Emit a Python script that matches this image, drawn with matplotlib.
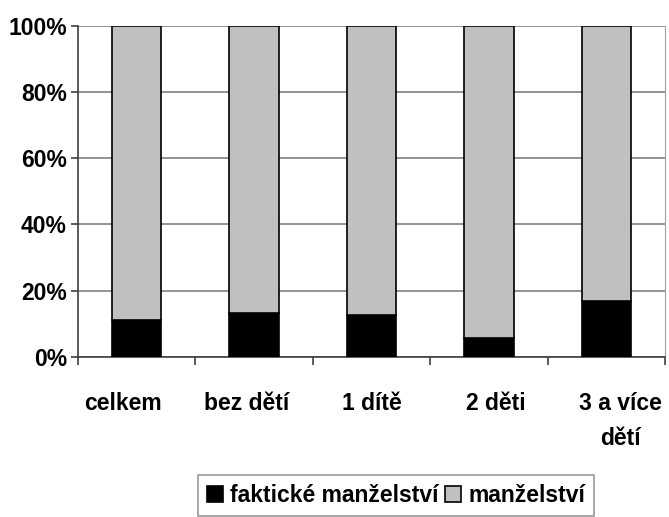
import matplotlib.pyplot as plt
import numpy as np

plt.rcParams['font.family'] = ['Liberation Sans', 'DejaVu Sans']
plt.rcParams['font.weight'] = 'bold'

kategorie = ['celkem', 'bez dětí', '1 dítě', '2 děti', '3 a více\ndětí']
faktticke = [11.3, 13.4, 12.8, 5.8, 16.8]
manzelstvi = [100 - v for v in faktticke]
y_ticks = [0, 20, 40, 60, 80, 100]

fig = plt.figure(figsize=(6.69, 5.17), dpi=100)
ax = fig.add_axes([0.1166, 0.3095, 0.8774, 0.6408])

x = np.arange(len(kategorie))
ax.bar(x, faktticke, width=0.42, color='black', edgecolor='black', linewidth=1.2,
       label='faktické manželství', zorder=3)
ax.bar(x, manzelstvi, width=0.42, bottom=faktticke, color='#c0c0c0', edgecolor='black',
       linewidth=1.2, label='manželství', zorder=3)

ax.set_xlim(-0.5, len(kategorie) - 0.5)
ax.set_ylim(0, 100)
ax.set_yticks(y_ticks)
ax.set_yticklabels([f'{v}%' for v in y_ticks], fontsize=16.5, fontweight='bold')
ax.yaxis.grid(True, color='#808080', linewidth=1.2, zorder=0)

# popisky v Excelu jsou trochu roztazene do stran
x_lab = 2 + (x - 2) * 1.06
ax.set_xticks(x_lab)
ax.set_xticklabels(kategorie, fontsize=16.5, fontweight='bold', linespacing=1.7)
ax.set_xticks(np.arange(len(kategorie) + 1) - 0.5, minor=True)
ax.tick_params(axis='x', which='major', length=0, pad=25)
ax.tick_params(axis='x', which='minor', length=6, width=1.2, color='#404040', direction='out')
ax.tick_params(axis='y', length=5, width=1.2, color='#404040', direction='out', pad=3)

ax.spines['top'].set_visible(False)
ax.spines['right'].set_color('#a0a0a0')
ax.spines['left'].set_color('#404040')
ax.spines['bottom'].set_color('#404040')
ax.spines['left'].set_linewidth(1.2)
ax.spines['bottom'].set_linewidth(1.2)

leg = fig.legend(loc='upper center', bbox_to_anchor=(396 / 669, 1 - 475 / 517), ncol=2,
                 fontsize=16.5, frameon=True, fancybox=False, edgecolor='#808080',
                 handlelength=0.7, handleheight=0.7, handletextpad=0.3, columnspacing=0.3,
                 borderpad=0.4, borderaxespad=0)
leg.get_frame().set_linewidth(1.2)
for t in leg.get_texts():
    t.set_fontweight('bold')

fig.savefig('out.png', dpi=100)
